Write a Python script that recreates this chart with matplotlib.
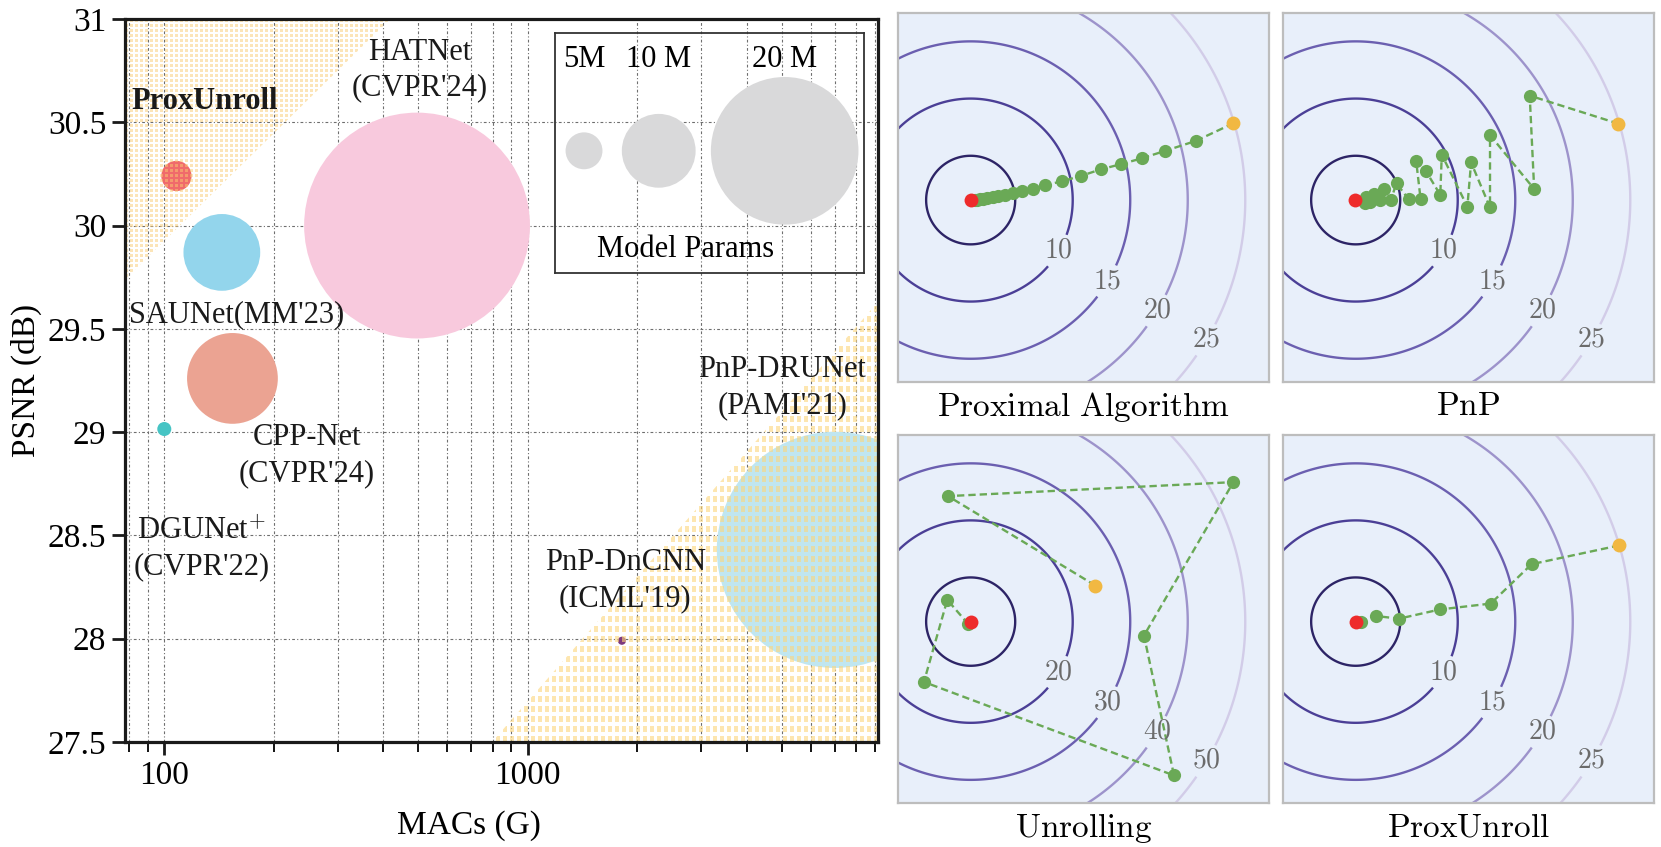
import numpy as np
import matplotlib.pyplot as plt
from matplotlib.image import AxesImage
from matplotlib.patches import Polygon
from matplotlib.ticker import NullFormatter

SERIF = ['Liberation Serif', 'DejaVu Serif']
plt.rcParams['font.family'] = SERIF
plt.rcParams['mathtext.fontset'] = 'cm'

# ---------------- 左图数据: MACs / PSNR / 参数量 ----------------
models = ['ProxUnroll', 'SAUNet', 'HATNet', 'CPP-Net', 'DGUNet+', 'PnP-DnCNN', 'PnP-DRUNet']
macs = [108, 144, 496, 154, 100, 1816, 7000]          # G
psnr = [30.24, 29.87, 30.00, 29.26, 29.015, 27.99, 28.43]  # dB
params = [4.1, 10.4, 30.6, 12.3, 1.9, 1.1, 32.0]       # M
bubble_colors = ['#f06b6b', '#93d5ec', '#f8c9dd', '#eba392', '#46c4c4', '#7d3a7e', '#c0e6f0']

legend_params = [5, 10, 20]
legend_labels = ['5M', '10 M', '20 M']

yticks = [27.5, 28, 28.5, 29, 29.5, 30, 30.5, 31]
ytick_labels = ['27.5', '28', '28.5', '29', '29.5', '30', '30.5', '31']
xticks = [100, 1000]
xtick_labels = ['100', '1000']

# 两块阴影区域 (数据坐标的角点)
region_tl_x = [78, 419, 78]
region_tl_y = [31, 31, 29.74]
region_br_x = [798, 9200, 9200]
region_br_y = [27.5, 27.5, 29.63]

# ---------------- 右图数据: 优化轨迹 (面板内 0-100 坐标) ----------------
opt_point = (19.6, 49.3)
prox_x = [90.4, 80.2, 71.9, 65.7, 60.0, 54.6, 49.2, 44.2, 39.7, 36.5, 33.5,
          31.0, 28.8, 27.0, 25.5, 24.1, 22.9, 22.1, 21.3, 20.7, 19.6]
prox_y = [70.1, 65.3, 62.6, 60.6, 59.0, 57.6, 55.8, 54.4, 53.3, 52.4, 51.7,
          51.1, 50.7, 50.4, 50.1, 49.9, 49.7, 49.5, 49.4, 49.3, 49.3]
pnp_x = [90.4, 66.5, 67.7, 55.8, 55.8, 50.7, 49.7, 42.8, 42.4, 38.5, 35.9,
         37.1, 33.9, 30.6, 29.0, 27.2, 26.1, 24.6, 23.4, 22.3, 22.0, 19.5]
pnp_y = [70.0, 77.6, 52.3, 66.9, 47.3, 59.5, 47.5, 61.6, 50.7, 57.2, 59.9,
         49.5, 49.5, 53.8, 49.2, 52.4, 49.3, 50.9, 48.9, 50.0, 48.4, 49.3]
unroll_x = [53.2, 13.5, 90.4, 66.3, 74.4, 7.0, 13.3, 18.9, 19.6]
unroll_y = [59.1, 83.4, 87.2, 45.5, 7.5, 32.9, 55.2, 48.7, 49.3]
proxunroll_x = [90.6, 67.0, 56.0, 42.3, 31.3, 25.2, 21.1, 19.6]
proxunroll_y = [70.0, 64.9, 54.2, 52.6, 50.1, 50.8, 49.3, 49.3]

panel_titles = ['Proximal Algorithm', 'PnP', 'Unrolling', 'ProxUnroll']
levels_small = [5, 10, 15, 20, 25]
levels_large = [10, 20, 30, 40, 50]
contour_colors = ['#2d2466', '#4b3f96', '#6b5fb0', '#9d93cb', '#d2cce8']
clabel_points = [(41.8, 36.3), (54.4, 28.5), (68.2, 20.2), (83.2, 11.3)]

green = '#6aa956'
orange = '#f1b842'
red = '#ee2b2b'

DPI = 100
fig = plt.figure(figsize=(16.61, 8.47), dpi=DPI)


def bubble_area(p):
    # 半径约 3.69 px / M
    return (2 * 3.69 * p * 72 / DPI) ** 2


# ---------------- 左图 ----------------
ax_pos = [0.0753, 0.1240, 0.4533, 0.8536]
ax = fig.add_axes(ax_pos)
ax.set_xscale('log')
ax.set_xlim(78, 9200)
ax.set_ylim(27.5, 31)
ax.set_axisbelow(True)

ax.scatter(macs, psnr, s=[bubble_area(p) for p in params], c=bubble_colors,
           linewidths=0, zorder=2)


def texture(h, w, px, py, sw, sh, rgba):
    img = np.zeros((h, w, 4))
    mask = ((np.arange(h) % py) < sh)[:, None] & ((np.arange(w) % px) < sw)[None, :]
    img[mask] = rgba
    return img


h_px = int(round(ax_pos[3] * 847))
w_px = int(round(ax_pos[2] * 1661))
for rx, ry, tex in [
    (region_tl_x, region_tl_y, texture(h_px, w_px, 5, 5, 3, 3, (0.98, 0.80, 0.45, 0.5))),
    (region_br_x, region_br_y, texture(h_px, w_px, 7, 10, 4, 6, (0.99, 0.84, 0.49, 0.6))),
]:
    im = AxesImage(ax, interpolation='nearest', origin='lower', extent=(0, 1, 0, 1),
                   transform=ax.transAxes, zorder=2.5)
    im.set_data(tex)
    ax.add_image(im)
    clip = Polygon(np.column_stack([rx, ry]), closed=True, transform=ax.transData)
    im.set_clip_path(clip)

ann_fs = 22
ax.text(128.8, 30.6, 'ProxUnroll', fontsize=ann_fs, fontweight='bold',
        color='#1a1a1a', ha='center', va='center', zorder=3)
annots = [
    ("HATNet\n(CVPR'24)", 505, 30.753),
    ("SAUNet(MM'23)", 157.9, 29.569),
    ("CPP-Net\n(CVPR'24)", 247, 28.887),
    ("DGUNet$^{+}$\n(CVPR'22)", 126.4, 28.435),
    ("PnP-DnCNN\n(ICML'19)", 1854, 28.282),
    ("PnP-DRUNet\n(PAMI'21)", 5012, 29.215),
]
for txt, x, y in annots:
    ax.text(x, y, txt, fontsize=ann_fs, ha='center', va='center',
            linespacing=1.3, color='#1a1a1a', zorder=3)

ax.set_yticks(yticks)
ax.set_yticklabels(ytick_labels, fontfamily=SERIF, fontsize=24)
ax.set_xticks(xticks)
ax.set_xticklabels(xtick_labels, fontfamily=SERIF, fontsize=24)
ax.xaxis.set_minor_formatter(NullFormatter())
ax.tick_params(axis='both', which='major', length=9.5, width=2,
               direction='out', color='#1a1a1a', pad=4)
ax.tick_params(axis='x', which='minor', length=7, width=1.3, direction='out')
ax.grid(True, which='both', axis='x', ls=(0, (2.5, 2, 1, 2)), lw=0.8, color='#6e6e6e')
ax.grid(True, which='major', axis='y', ls=(0, (2.5, 2, 1, 2)), lw=0.8, color='#6e6e6e')
for sp in ax.spines.values():
    sp.set_linewidth(2.3)
    sp.set_color('#1a1a1a')

ax.set_xlabel('MACs (G)', fontsize=24, fontfamily=SERIF)
ax.xaxis.set_label_coords(0.457, -0.095)
ax.set_ylabel('PSNR (dB)', fontsize=24, fontfamily=SERIF)
ax.yaxis.set_label_coords(-0.11, 0.5)

# 图例: 参数量
lax = ax.inset_axes([0.571, 0.649, 0.410, 0.332])
lax.set_facecolor('none')
lax.set_xlim(0, 1)
lax.set_ylim(0, 1)
lax.set_xticks([])
lax.set_yticks([])
for sp in lax.spines.values():
    sp.set_linewidth(1.3)
    sp.set_color('#333333')
leg_x = [0.094, 0.336, 0.744]
lax.scatter(leg_x, [0.508] * 3, s=[bubble_area(p) for p in legend_params],
            c='#d9d9da', linewidths=0, clip_on=False)
for lx, lab in zip(leg_x, legend_labels):
    lax.text(lx, 0.888, lab, fontsize=ann_fs, ha='center', va='center')
lax.text(0.424, 0.096, 'Model Params', fontsize=ann_fs, ha='center', va='center')

# ---------------- 右侧四个小图 ----------------
panel_rects = [
    [0.5406, 0.5490, 0.2234, 0.4357],
    [0.7724, 0.5490, 0.2234, 0.4357],
    [0.5406, 0.0519, 0.2234, 0.4345],
    [0.7724, 0.0519, 0.2234, 0.4345],
]
trajs = [(prox_x, prox_y), (pnp_x, pnp_y), (unroll_x, unroll_y), (proxunroll_x, proxunroll_y)]
panel_levels = [levels_small, levels_small, levels_large, levels_small]

gx, gy = np.meshgrid(np.linspace(0, 100, 500), np.linspace(0, 100, 500))
dist = np.hypot(gx - opt_point[0], gy - opt_point[1])

for rect, (tx, ty), lv, title in zip(panel_rects, trajs, panel_levels, panel_titles):
    pax = fig.add_axes(rect)
    pax.set_facecolor('#e8effa')
    scale = lv[0] / 5
    Z = (dist + 3.5) / 3.1 * scale
    # 最内圈不加标注
    pax.contour(gx, gy, Z, levels=lv[:1], colors=contour_colors[:1], linewidths=1.7)
    cs = pax.contour(gx, gy, Z, levels=lv[1:], colors=contour_colors[1:], linewidths=1.7)
    texts = pax.clabel(cs, manual=clabel_points, inline=True,
                       inline_spacing=4, fontsize=20, colors='#6b6b6b',
                       fmt=lambda v: rf'${v:g}$')
    for t in texts:
        t.set_rotation(0)
    pax.plot(tx, ty, ls=(0, (3.1, 1.7)), lw=1.7, color=green, zorder=3)
    pax.plot(tx[1:-1], ty[1:-1], 'o', ms=9.5, mfc=green, mec='none', zorder=4)
    pax.plot(tx[0], ty[0], 'o', ms=10, mfc=orange, mec='none', zorder=5)
    pax.plot(tx[-1], ty[-1], 'o', ms=10, mfc=red, mec='none', zorder=5)
    pax.set_xlim(0, 100)
    pax.set_ylim(0, 100)
    pax.set_xticks([])
    pax.set_yticks([])
    for sp in pax.spines.values():
        sp.set_linewidth(1.6)
        sp.set_color('#bdbdbd')
    pax.text(0.5, -0.068, r'$\mathrm{' + title.replace(' ', r'\ ') + '}$',
             transform=pax.transAxes, fontsize=24, ha='center', va='center')

fig.savefig('out.png', dpi=DPI)
